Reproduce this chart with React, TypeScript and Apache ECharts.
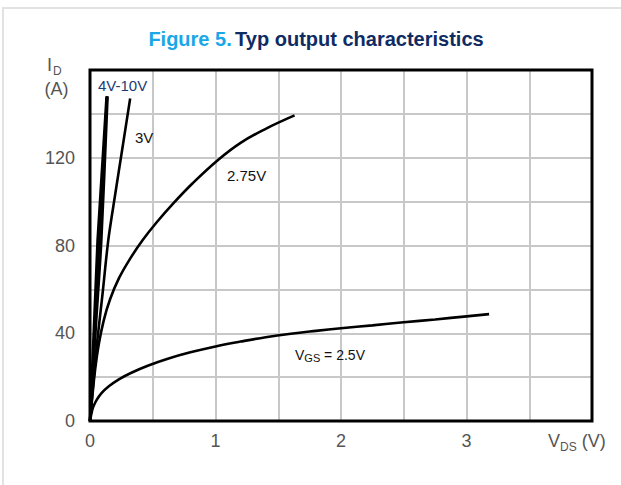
import React, { useEffect, useRef } from 'react';
import * as echarts from 'echarts';

const xLabelValues = [0, 1, 2, 3];
const yLabelValues = [0, 40, 80, 120];

const curveVgs25 = [[0, 0], [0.01, 3], [0.025, 6.3], [0.05, 9.3], [0.09, 12.6], [0.15, 15.8], [0.23, 19], [0.33, 22], [0.46, 25.2], [0.62, 28.4], [0.8, 31.3], [1, 34], [1.2, 36.2], [1.4, 38.2], [1.6, 39.8], [1.8, 41.1], [2, 42.3], [2.25, 43.6], [2.5, 45], [2.75, 46.3], [3, 47.7], [3.18, 48.7]];
const curveVgs275 = [[0, 0], [0.02, 12], [0.04, 23], [0.07, 35], [0.11, 46], [0.16, 55.5], [0.23, 65], [0.32, 74], [0.42, 82.5], [0.53, 90.5], [0.66, 99], [0.82, 108.5], [1.02, 119], [1.2, 126.8], [1.4, 133.2], [1.63, 139.3]];
const curveVgs3 = [[0, 0], [0.05, 32], [0.1, 58], [0.146, 82.6], [0.2, 103], [0.26, 125], [0.32, 147]];
const curveVgs10 = [[0, 0], [0.06, 82], [0.132, 148]];
const curveVgs5 = [[0, 0], [0.075, 83], [0.136, 148]];
const curveVgs4 = [[0, 0], [0.05, 46], [0.09, 82], [0.14, 148]];

const FONT = 'Liberation Sans, Arial, Helvetica, sans-serif';

export default function App() {
  const ref = useRef<HTMLDivElement>(null);
  useEffect(() => {
    if (!ref.current) return;
    const chart = echarts.init(ref.current, null, { renderer: 'svg' });
    const lineSeries = (data: number[][], smooth: number | boolean, width = 2.6) => ({
      type: 'line',
      data,
      showSymbol: false,
      smooth,
      lineStyle: { color: '#000', width },
      itemStyle: { color: '#000' },
      silent: true,
    });
    chart.setOption({
      animation: false,
      backgroundColor: '#fff',
      grid: {
        left: 90, top: 70, width: 502, height: 351,
        show: true, borderColor: '#000', borderWidth: 3, backgroundColor: 'transparent',
        z: 5,
      },
      xAxis: {
        type: 'value', min: 0, max: 4, interval: 0.5,
        axisLine: { show: false }, axisTick: { show: false },
        splitLine: { show: true, lineStyle: { color: '#c8c8c8', width: 2 } },
        axisLabel: {
          margin: 11, fontSize: 18, color: '#555', fontFamily: FONT,
          formatter: (v: number) => (xLabelValues.includes(v) ? String(v) : ''),
        },
      },
      yAxis: {
        type: 'value', min: 0, max: 160, interval: 20,
        axisLine: { show: false }, axisTick: { show: false },
        splitLine: { show: true, lineStyle: { color: '#c8c8c8', width: 2 } },
        axisLabel: {
          margin: 15, fontSize: 18, color: '#555', fontFamily: FONT,
          formatter: (v: number) => (yLabelValues.includes(v) ? String(v) : ''),
        },
      },
      series: [
        lineSeries(curveVgs25, 0.4),
        lineSeries(curveVgs275, 0.4),
        lineSeries(curveVgs3, 0.3),
        lineSeries(curveVgs10, false),
        lineSeries(curveVgs5, false),
        lineSeries(curveVgs4, 0.3),
      ],
      graphic: [
        { type: 'rect', shape: { x: 3, y: 8, width: 700, height: 600 }, style: { fill: 'none', stroke: '#e2e2e2', lineWidth: 2 }, silent: true },
        {
          type: 'text', x: 316, y: 39,
          style: {
            text: '{a|Figure 5.} {b|Typ output characteristics}',
            align: 'center', verticalAlign: 'middle',
            rich: {
              a: { fontFamily: FONT, fontSize: 20, fontWeight: 'bold', fill: '#19a7e8' },
              b: { fontFamily: FONT, fontSize: 20, fontWeight: 'bold', fill: '#0f2b63' },
            },
          },
        },
        {
          type: 'text', x: 47, y: 66,
          style: {
            text: '{m|I}{s|D}',
            verticalAlign: 'middle',
            rich: {
              m: { fontFamily: FONT, fontSize: 18, fill: '#555', verticalAlign: 'bottom', lineHeight: 16 },
              s: { fontFamily: FONT, fontSize: 12, fill: '#555', verticalAlign: 'bottom', lineHeight: 12, padding: [0, 0, -3, 1] },
            },
          },
        },
        { type: 'text', x: 56.5, y: 89, style: { text: '(A)', fontFamily: FONT, fontSize: 18, lineHeight: 18, fill: '#555', align: 'center', verticalAlign: 'middle' } },
        {
          type: 'text', x: 548, y: 441,
          style: {
            text: '{m|V}{s|DS}{m| (V)}',
            verticalAlign: 'middle',
            rich: {
              m: { fontFamily: FONT, fontSize: 18, fill: '#555', verticalAlign: 'bottom' },
              s: { fontFamily: FONT, fontSize: 12, fill: '#555', verticalAlign: 'bottom', padding: [0, 0, -3, 0] },
            },
          },
        },
        { type: 'text', x: 98, y: 85, z: 10, style: { text: '4V-10V', fontFamily: FONT, fontSize: 15, fill: '#1b3b73', verticalAlign: 'middle' } },
        { type: 'text', x: 135, y: 137, z: 10, style: { text: '3V', fontFamily: FONT, fontSize: 15, fill: '#111', verticalAlign: 'middle' } },
        { type: 'text', x: 227, y: 175, z: 10, style: { text: '2.75V', fontFamily: FONT, fontSize: 15, fill: '#111', verticalAlign: 'middle' } },
        {
          type: 'text', x: 295, y: 355, z: 10,
          style: {
            text: '{m|V}{s|GS}{m| = 2.5V}',
            verticalAlign: 'middle',
            rich: {
              m: { fontFamily: FONT, fontSize: 14, fill: '#111', verticalAlign: 'bottom' },
              s: { fontFamily: FONT, fontSize: 11, fill: '#111', verticalAlign: 'bottom', padding: [0, 0, -1, 0] },
            },
          },
        },
      ],
    });
    return () => chart.dispose();
  }, []);
  return <div ref={ref} style={{ position: 'fixed', left: 0, top: 0, width: 621, height: 485 }} />;
}
